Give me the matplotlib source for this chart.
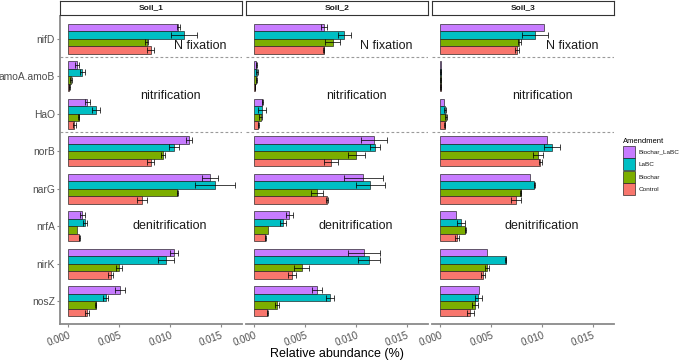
import matplotlib
matplotlib.use("Agg")
import matplotlib.pyplot as plt
from matplotlib.patches import Patch
import numpy as np

plt.rcParams["font.family"] = ["Liberation Sans", "DejaVu Sans"]

# ── Data ──────────────────────────────────────────────────────────────────────
genes = ["nifD", "amoA.amoB", "HaO", "norB", "narG", "nrfA", "nirK", "nosZ"]
amendments = ["Biochar_LaBC", "LaBC", "Biochar", "Control"]
soils = ["Soil_1", "Soil_2", "Soil_3"]

soil1_mean = {
    "Biochar_LaBC": [0.01081, 0.00088, 0.00187, 0.01183, 0.01392, 0.00138, 0.01035, 0.00505],
    "LaBC":         [0.01137, 0.00138, 0.00269, 0.01035, 0.01441, 0.00161, 0.00957, 0.00367],
    "Biochar":      [0.00770, 0.00027, 0.00102, 0.00930, 0.01068, 0.00083, 0.00495, 0.00269],
    "Control":      [0.00810, 0.00010, 0.00056, 0.00810, 0.00721, 0.00108, 0.00416, 0.00184],
}
soil1_err = {
    "Biochar_LaBC": [0.00018, 0.00020, 0.00026, 0.00030, 0.00080, 0.00026, 0.00040, 0.00050],
    "LaBC":         [0.00126, 0.00023, 0.00039, 0.00050, 0.00196, 0.00020, 0.00080, 0.00025],
    "Biochar":      [0.00013, 0.00010, 0.00005, 0.00016, 0.00005, 0.0, 0.00030, 0.00005],
    "Control":      [0.00036, 0.00003, 0.00015, 0.00036, 0.00050, 0.00005, 0.00026, 0.00016],
}
soil2_mean = {
    "Biochar_LaBC": [0.00685, 0.00017, 0.00079, 0.01179, 0.01071, 0.00344, 0.01080, 0.00619],
    "LaBC":         [0.00884, 0.00030, 0.00076, 0.01186, 0.01140, 0.00279, 0.01130, 0.00744],
    "Biochar":      [0.00770, 0.00017, 0.00063, 0.01002, 0.00619, 0.00135, 0.00465, 0.00226],
    "Control":      [0.00681, 0.00005, 0.00036, 0.00756, 0.00711, 0.00108, 0.00367, 0.00128],
}
soil2_err = {
    "Biochar_LaBC": [0.00030, 0.00005, 0.00005, 0.00128, 0.00190, 0.00036, 0.00157, 0.00050],
    "LaBC":         [0.00064, 0.00010, 0.00036, 0.00050, 0.00144, 0.00030, 0.00108, 0.00040],
    "Biochar":      [0.00072, 0.00005, 0.00015, 0.00082, 0.00060, 0.0, 0.00074, 0.00020],
    "Control":      [0.00005, 0.00003, 0.00005, 0.00070, 0.00010, 0.00005, 0.00038, 0.00005],
}
soil3_mean = {
    "Biochar_LaBC": [0.01018, 0.00003, 0.00036, 0.01047, 0.00880, 0.00157, 0.00455, 0.00379],
    "LaBC":         [0.00933, 0.00003, 0.00046, 0.01097, 0.00923, 0.00203, 0.00642, 0.00373],
    "Biochar":      [0.00776, 0.00003, 0.00055, 0.00963, 0.00789, 0.00246, 0.00458, 0.00337],
    "Control":      [0.00750, 0.00003, 0.00043, 0.00982, 0.00740, 0.00164, 0.00416, 0.00295],
}
soil3_err = {
    "Biochar_LaBC": [0.0, 0.0, 0.0, 0.0, 0.0, 0.0, 0.0, 0.0],
    "LaBC":         [0.00128, 0.00003, 0.00010, 0.00077, 0.00005, 0.00040, 0.00005, 0.00034],
    "Biochar":      [0.00018, 0.00003, 0.00010, 0.00050, 0.00005, 0.00005, 0.00023, 0.00030],
    "Control":      [0.00018, 0.00003, 0.00005, 0.00015, 0.00050, 0.00020, 0.00020, 0.00033],
}

process_labels = ["N fixation", "nitrification", "denitrification"]

# ── Style ─────────────────────────────────────────────────────────────────────
COLORS = {"Biochar_LaBC": "#C77CFF", "LaBC": "#00BFC4",
          "Biochar": "#7CAE00", "Control": "#F8766D"}
AXIS_GREY = "#8a8a8a"
TEXT_GREY = "#4D4D4D"
EDGE = (0.1, 0.1, 0.1, 0.75)

W, H = 685, 361
fig = plt.figure(figsize=(W / 100, H / 100), dpi=100)

panel_x = [(60, 242), (246, 428), (432, 614)]
panel_top, panel_bottom = 16, 324
strip_top, strip_bottom = 0.8, 14.7

means = [soil1_mean, soil2_mean, soil3_mean]
errs = [soil1_err, soil2_err, soil3_err]
y = np.arange(1, len(genes) + 1)
offsets = [-0.3, -0.1, 0.1, 0.3]

for k, soil in enumerate(soils):
    x0, x1 = panel_x[k]
    ax = fig.add_axes([x0 / W, 1 - panel_bottom / H, (x1 - x0) / W,
                       (panel_bottom - panel_top) / H])
    for a, off in zip(amendments, offsets):
        ax.barh(y + off, means[k][a], height=0.2, color=COLORS[a],
                edgecolor=EDGE, linewidth=0.6, zorder=2)
        e = np.array(errs[k][a])
        m = e > 0
        if m.any():
            ax.errorbar(np.array(means[k][a])[m], (y + off)[m], xerr=e[m],
                        fmt="none", ecolor=(0, 0, 0, 0.75), elinewidth=0.7,
                        capsize=2, capthick=0.7, zorder=3)
    for yy in (1.5, 3.5):
        ax.axhline(yy, color="#9a9a9a", linestyle=(0, (2.5, 2)), linewidth=0.8, zorder=1)

    ax.text(0.0130, 1.2, process_labels[0], ha="center", va="center", fontsize=9, color="#1a1a1a")
    ax.text(0.0100, 2.53, process_labels[1], ha="center", va="center", fontsize=9, color="#1a1a1a")
    ax.text(0.0100, 6.0, process_labels[2], ha="center", va="center", fontsize=9, color="#1a1a1a")

    ax.set_xlim(-0.00082, 0.01706)
    ax.set_ylim(8.6, 0.4)
    ax.set_xticks([0.0, 0.005, 0.010, 0.015])
    ax.set_xticklabels(["0.000", "0.005", "0.010", "0.015"], rotation=20,
                       ha="right", rotation_mode="anchor", fontsize=7, color=TEXT_GREY)
    ax.tick_params(axis="x", length=2.5, width=0.8, color=AXIS_GREY, pad=2)
    for s in ("top", "right"):
        ax.spines[s].set_visible(False)
    ax.spines["bottom"].set_color(AXIS_GREY)
    ax.spines["bottom"].set_linewidth(1.3)
    if k == 0:
        ax.set_yticks(y)
        ax.set_yticklabels(genes, fontsize=7.4, color=TEXT_GREY)
        ax.tick_params(axis="y", length=2.5, width=0.8, color=AXIS_GREY, pad=1.2)
        ax.spines["left"].set_color(AXIS_GREY)
        ax.spines["left"].set_linewidth(1.3)
    else:
        ax.set_yticks([])
        ax.spines["left"].set_visible(False)

    # facet strip
    sax = fig.add_axes([x0 / W, 1 - strip_bottom / H, (x1 - x0) / W,
                        (strip_bottom - strip_top) / H])
    sax.set_xticks([])
    sax.set_yticks([])
    for s in sax.spines.values():
        s.set_color("#333333")
        s.set_linewidth(0.8)
    sax.text(0.5, 0.5, soil, ha="center", va="center", fontsize=6,
             fontweight="bold", color="#1a1a1a", transform=sax.transAxes)

fig.text(337 / W, 1 - 354 / H, "Relative abundance (%)", ha="center", va="center",
         fontsize=9, color="black")

# ── Legend ────────────────────────────────────────────────────────────────────
handles = [Patch(facecolor=COLORS[a], edgecolor=EDGE, linewidth=0.6) for a in amendments]
leg = fig.legend(handles, amendments, title="Amendment", loc="upper left",
                 bbox_to_anchor=(622 / W, 1 - 137 / H), frameon=False,
                 fontsize=4.6, title_fontsize=5.5, handlelength=1.85, handleheight=2.5,
                 handletextpad=0.55, labelspacing=0.08, borderpad=0.2, borderaxespad=0)
leg._legend_box.align = "left"
for t in leg.get_texts():
    t.set_color("#1a1a1a")

fig.savefig("out.png", dpi=100, facecolor="white")
